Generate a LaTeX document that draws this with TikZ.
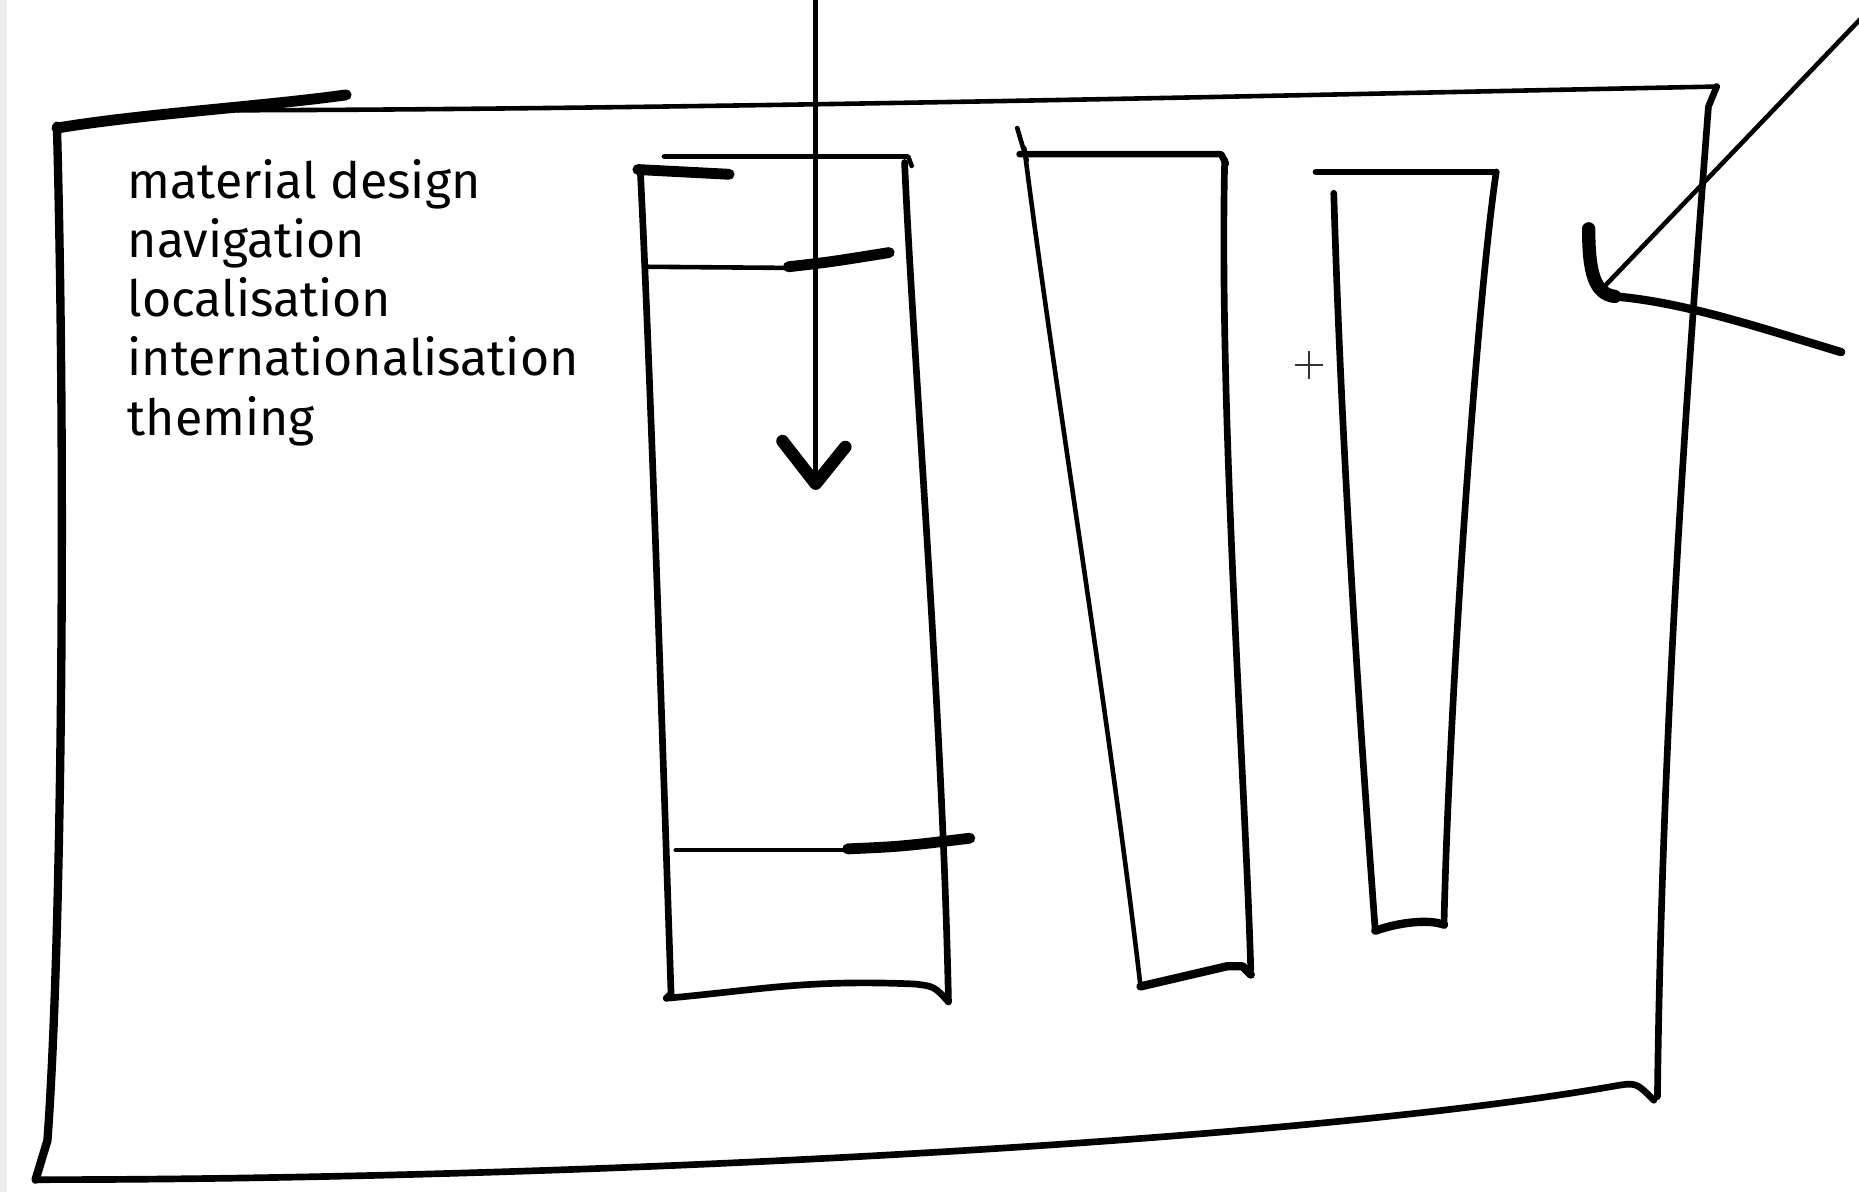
\documentclass[tikz,border=0pt]{standalone}
\usepackage{fontspec}
\setmainfont{Fira Sans}
\usetikzlibrary{positioning}
\tikzset{
    sketch/.style={draw=black, line width=1.1pt, line cap=round, line join=round},
    medium/.style={draw=black, line width=1.6pt, line cap=round, line join=round},
    heavy/.style={draw=black, line width=2.6pt, line cap=round, line join=round},
    itemtext/.style={anchor=base west, inner sep=0pt, font=\fontsize{12}{14.2}\selectfont},
    cursor/.style={draw=black!80, line width=0.5pt}
}

\begin{document}
\begin{tikzpicture}[x=0.01cm, y=-0.01cm]
  \useasboundingbox (0,0) rectangle (1568,1005);
  \fill[black!7] (0,0) rectangle (6,1005);
  % outer frame
  \draw[heavy] (48,108) .. controls (120,96) and (220,90) .. (292,80);
  \draw[sketch] (200,93) .. controls (600,92) and (1100,80) .. (1448,73);
  \draw[medium] (1448,73) -- (1441,90) .. controls (1425,300) and (1402,600) .. (1398,925);
  \draw[medium, line width=2pt] (48,106) .. controls (56,400) and (52,800) .. (40,962) -- (30,995);
  \draw[medium] (30,995) .. controls (500,995) and (1100,962) .. (1362,916) .. controls (1380,913) .. (1395,928);
  % text block
  \node[itemtext] (t1) at (107,167) {material design};
  \node[itemtext] (t2) at (107,217) {navigation};
  \node[itemtext] (t3) at (107,267) {localisation};
  \node[itemtext] (t4) at (107,317) {internationalisation};
  \node[itemtext] (t5) at (107,367) {theming};
  % first column
  \draw[heavy] (538,143) -- (615,147);
  \draw[sketch] (560,132) -- (766,132) -- (769,140);
  \draw[medium] (540,142) .. controls (548,300) and (558,600) .. (566,838) -- (562,842);
  \draw[medium] (763,137) .. controls (770,300) and (795,600) .. (800,845);
  \draw[sketch] (545,225) -- (670,226);
  \draw[heavy] (665,225) .. controls (700,221) .. (750,213);
  \draw[sketch] (570,717) -- (720,717);
  \draw[heavy] (715,716) .. controls (760,714) .. (818,707);
  \draw[medium] (562,842) .. controls (640,835) and (680,826) .. (772,830) .. controls (788,832) .. (800,845);
  % second column
  \draw[sketch] (858,108) -- (866,135);
  \draw[medium] (860,130) -- (1030,130) -- (1034,138);
  \draw[sketch] (864,125) .. controls (890,330) and (935,600) .. (962,832);
  \draw[medium] (1033,135) .. controls (1028,350) and (1050,650) .. (1055,818);
  \draw[medium, line width=2pt] (962,832) -- (1035,815) -- (1048,815) -- (1055,822);
  % third column
  \draw[medium] (1110,145) -- (1262,145);
  \draw[medium] (1262,145) .. controls (1245,260) and (1222,600) .. (1218,778);
  \draw[medium] (1125,163) .. controls (1132,400) and (1150,650) .. (1160,785);
  \draw[medium, line width=2pt] (1160,785) .. controls (1180,778) and (1205,775) .. (1218,780);
  % cursor mark
  \draw[cursor] (1092,308) -- (1116,308) (1104,296) -- (1104,320);
  % arrows
  \coordinate (drop top) at (688,-5);
  \coordinate (drop tip) at (688,408);
  \coordinate (side start) at (1575,10);
  \coordinate (side tip) at (1350,245);
  \draw[sketch] (drop top) -- (drop tip);
  \draw[heavy, line width=3pt] (660,372) -- (drop tip) -- (713,377);
  \draw[sketch] (side start) -- (side tip);
  \draw[heavy, line width=3.2pt] (1340,193) .. controls (1340,230) and (1345,248) .. (1362,250);
  \draw[heavy, line width=2pt] (1362,250) .. controls (1420,255) and (1480,275) .. (1553,297);
\end{tikzpicture}
\end{document}
